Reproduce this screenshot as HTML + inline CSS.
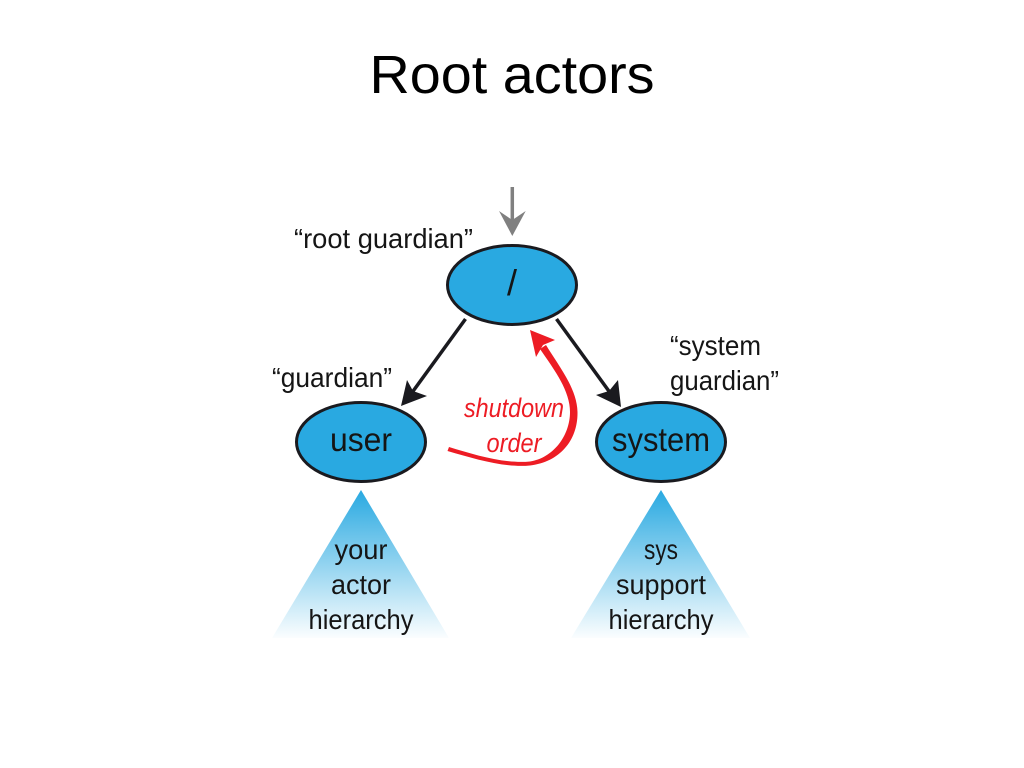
<!DOCTYPE html>
<html>
<head>
<meta charset="utf-8">
<style>
html,body{margin:0;padding:0;background:#fff;width:1024px;height:768px;overflow:hidden}
svg{display:block}
text{font-family:"Liberation Sans",sans-serif;fill:#151515}
</style>
</head>
<body>
<svg width="1024" height="768" viewBox="0 0 1024 768" xmlns="http://www.w3.org/2000/svg">
<defs>
<linearGradient id="g" x1="0" y1="0" x2="0" y2="1">
<stop offset="0" stop-color="#29a9e1"/>
<stop offset="1" stop-color="#29a9e1" stop-opacity="0.02"/>
</linearGradient>
</defs>
<text x="512" y="93" text-anchor="middle" font-size="54" style="fill:#000" textLength="285" lengthAdjust="spacingAndGlyphs">Root actors</text>

<polygon points="361,490 449,638 272,638" fill="url(#g)"/>
<polygon points="661,490 750,638 571,638" fill="url(#g)"/>

<ellipse cx="512" cy="285" rx="64.5" ry="39.5" fill="#29a9e1" stroke="#1a1a1f" stroke-width="3"/>
<ellipse cx="361" cy="442" rx="64.5" ry="39.5" fill="#29a9e1" stroke="#1a1a1f" stroke-width="3"/>
<ellipse cx="661" cy="442" rx="64.5" ry="39.5" fill="#29a9e1" stroke="#1a1a1f" stroke-width="3"/>

<line x1="512.3" y1="187" x2="512.3" y2="222" stroke="#808080" stroke-width="3.5"/>
<polygon points="512.3,236 499,211 512.3,220 525.7,211" fill="#808080"/>

<line x1="465.5" y1="319" x2="411" y2="394" stroke="#1a1a1f" stroke-width="3.5"/>
<polygon points="401,406 407,380 413,391 427,396" fill="#1a1a1f"/>
<line x1="556.5" y1="319" x2="611" y2="394" stroke="#1a1a1f" stroke-width="3.5"/>
<polygon points="621,407 618,380 609,391 596,395" fill="#1a1a1f"/>

<path d="M447.5,451 C475,459 505,468 530,465.5 C560,462 578,440 577.5,412 C577,388 558,365 546,345 L540,349 C553,368 570,390 570,412 C570,436 553,458 530,461.5 C505,464 475,455 449,447 Z" fill="#ed1c24"/>
<polygon points="530,330 555,340 543,345 536,357" fill="#ed1c24"/>

<text x="512" y="295" text-anchor="middle" font-size="36">/</text>
<text x="361" y="451" text-anchor="middle" font-size="33" textLength="62" lengthAdjust="spacingAndGlyphs">user</text>
<text x="661" y="451" text-anchor="middle" font-size="33" textLength="98" lengthAdjust="spacingAndGlyphs">system</text>

<text x="294" y="248" font-size="28" textLength="179" lengthAdjust="spacingAndGlyphs">“root guardian”</text>
<text x="272" y="387" font-size="28" textLength="120" lengthAdjust="spacingAndGlyphs">“guardian”</text>
<text x="670" y="355" font-size="28" textLength="91" lengthAdjust="spacingAndGlyphs">“system</text>
<text x="670" y="390" font-size="28" textLength="109" lengthAdjust="spacingAndGlyphs">guardian”</text>

<text x="514" y="417" text-anchor="middle" font-size="27" font-style="italic" style="fill:#ed1c24" textLength="100" lengthAdjust="spacingAndGlyphs">shutdown</text>
<text x="514" y="452" text-anchor="middle" font-size="27" font-style="italic" style="fill:#ed1c24" textLength="55" lengthAdjust="spacingAndGlyphs">order</text>

<text x="361" y="559" text-anchor="middle" font-size="28" textLength="53" lengthAdjust="spacingAndGlyphs">your</text>
<text x="361" y="594" text-anchor="middle" font-size="28" textLength="60" lengthAdjust="spacingAndGlyphs">actor</text>
<text x="361" y="629" text-anchor="middle" font-size="28" textLength="105" lengthAdjust="spacingAndGlyphs">hierarchy</text>
<text x="661" y="559" text-anchor="middle" font-size="28" textLength="34" lengthAdjust="spacingAndGlyphs">sys</text>
<text x="661" y="594" text-anchor="middle" font-size="28" textLength="90" lengthAdjust="spacingAndGlyphs">support</text>
<text x="661" y="629" text-anchor="middle" font-size="28" textLength="105" lengthAdjust="spacingAndGlyphs">hierarchy</text>
</svg>
</body>
</html>
